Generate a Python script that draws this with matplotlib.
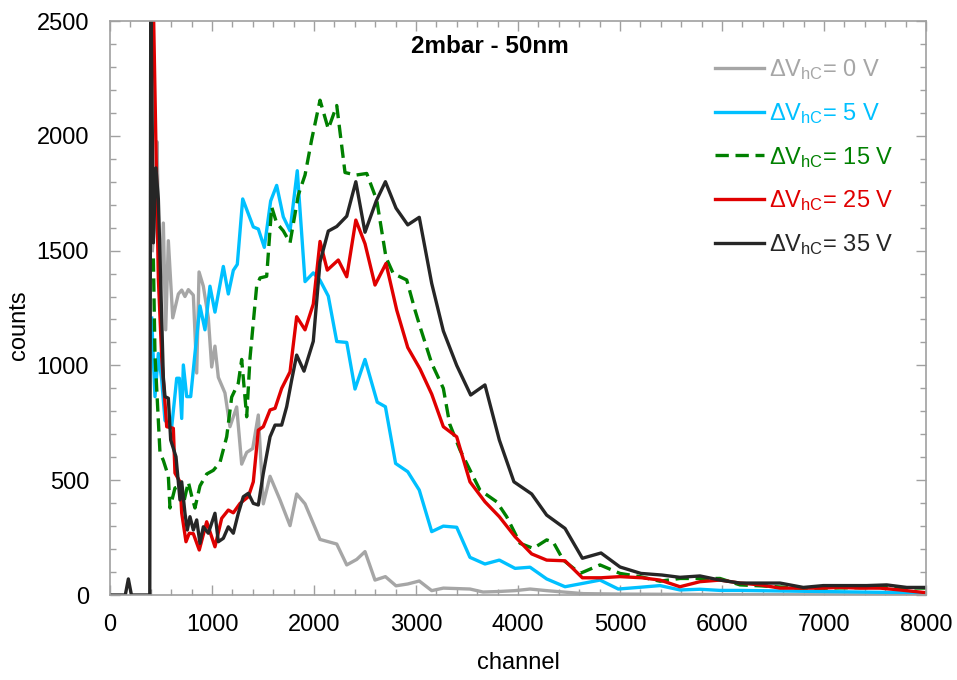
import numpy as np
import matplotlib.pyplot as plt
from matplotlib.ticker import MultipleLocator

plt.rcParams['font.family'] = ['Liberation Sans', 'DejaVu Sans']
plt.rcParams['mathtext.fontset'] = 'custom'
plt.rcParams['mathtext.rm'] = 'Liberation Sans'
plt.rcParams['mathtext.it'] = 'Liberation Sans'

# series: channel / counts for each dV_hC
ch0 = [415, 445, 461, 490, 523, 546, 572, 615, 670, 703, 735, 768, 817, 850, 873, 915,
       964, 997, 1029, 1062, 1127, 1176, 1242, 1291, 1340, 1399, 1454, 1503, 1569, 1667,
       1765, 1830, 1912, 2059, 2223, 2321, 2419, 2500, 2598, 2700, 2804, 2919, 3032, 3154,
       3268, 3529, 3657, 3800, 3971, 4118, 4281, 4444, 4640, 5000, 6000, 8000]
cnt0 = [1500, 1650, 1974, 1250, 1620, 1155, 1543, 1207, 1311, 1328, 1300, 1330, 1306, 967,
        1407, 1345, 1207, 993, 1084, 948, 880, 733, 819, 570, 621, 638, 784, 397, 517, 414,
        302, 440, 397, 242, 222, 131, 155, 189, 65, 80, 40, 48, 61, 19,
        30, 26, 13, 15, 19, 26, 19, 13, 6, 4, 2, 0]

ch5 = [409, 425, 441, 474, 507, 539, 605, 654, 680, 703, 719, 752, 791, 833, 882, 931,
       980, 1029, 1111, 1160, 1209, 1248, 1301, 1405, 1454, 1513, 1575, 1634, 1699, 1765,
       1836, 1912, 1993, 2059, 2140, 2223, 2321, 2402, 2500, 2620, 2700, 2800, 2919, 3032,
       3154, 3268, 3399, 3529, 3676, 3817, 3971, 4118, 4281, 4461, 4640, 4804, 4983, 5180,
       5392, 5588, 5784, 5980, 6176, 6500, 7000, 7500, 8000]
cnt5 = [1206, 1023, 864, 1052, 936, 760, 733, 944, 944, 769, 1002, 864, 864, 1052, 1259, 1155,
        1345, 1232, 1431, 1311, 1414, 1440, 1725, 1603, 1594, 1514, 1716, 1784, 1647, 1586,
        1848, 1365, 1403, 1371, 1302, 1104, 1100, 897, 1026, 840, 820, 573, 537, 457,
        276, 300, 295, 164, 135, 152, 116, 121, 70, 36, 51, 65, 26, 33,
        41, 22, 25, 20, 20, 18, 15, 12, 10]

ch15 = [425, 441, 490, 523, 572, 588, 637, 686, 719, 768, 801, 833, 882, 948, 1013, 1078,
        1144, 1193, 1258, 1291, 1340, 1373, 1438, 1471, 1536, 1585, 1634, 1699, 1765, 1846,
        1912, 1977, 2059, 2140, 2223, 2304, 2412, 2517, 2615, 2706, 2777, 2909, 2990, 3039,
        3154, 3268, 3330, 3431, 3627, 3791, 3889, 4020, 4150, 4281, 4346, 4444, 4608, 4804,
        5000, 5196, 5392, 5588, 5784, 5980, 6176, 6373, 6569, 6765, 7000, 7500, 8000]
cnt15 = [1466, 1045, 620, 586, 518, 379, 466, 475, 396, 492, 431, 379, 475, 527, 543, 577,
         689, 862, 923, 1026, 776, 1034, 1346, 1381, 1388, 1690, 1620, 1586, 1534, 1742,
         1829, 1983, 2155, 2030, 2132, 1840, 1829, 1836, 1720, 1470, 1400, 1372, 1241, 1169,
         1009, 900, 745, 632, 457, 406, 341, 225, 203, 240, 230, 152, 94, 131,
         94, 80, 60, 72, 72, 72, 44, 40, 35, 30, 30, 33, 30]

ch25 = [420, 474, 507, 556, 621, 637, 686, 703, 745, 777, 817, 875, 948, 1029, 1095, 1160,
        1209, 1275, 1356, 1405, 1454, 1503, 1569, 1618, 1683, 1765, 1830, 1912, 1993, 2059,
        2130, 2238, 2321, 2410, 2500, 2598, 2706, 2811, 2919, 3039, 3154, 3268, 3399, 3529,
        3676, 3817, 3971, 4134, 4281, 4461, 4631, 4814, 5000, 5213, 5392, 5588, 5784, 5980,
        6176, 6373, 6569, 6765, 6961, 7157, 7353, 7549, 7745, 8000]
cnt25 = [2700, 1380, 1034, 733, 726, 531, 493, 357, 232, 269, 267, 196, 319, 210, 334, 370,
         358, 399, 428, 493, 718, 733, 806, 813, 900, 972, 1212, 1155, 1267, 1540,
         1415, 1459, 1386, 1633, 1530, 1350, 1444, 1241, 1078, 985, 875, 733, 689, 493,
         406, 341, 254, 179, 152, 149, 75, 75, 80, 75, 65, 36, 58, 65,
         52, 44, 30, 30, 30, 33, 30, 30, 22, 10]

ch35 = [0, 150, 180, 210, 390, 400, 425, 450, 474, 523, 539, 572, 595, 647, 686, 703,
        735, 758, 784, 817, 850, 882, 915, 964, 1029, 1062, 1111, 1160, 1209, 1258,
        1307, 1356, 1405, 1454, 1503, 1569, 1618, 1683, 1732, 1781, 1830, 1902, 1993, 2059,
        2140, 2223, 2321, 2410, 2500, 2610, 2700, 2804, 2919, 3032, 3154, 3268, 3399, 3536,
        3676, 3817, 3960, 4134, 4281, 4461, 4631, 4814, 5000, 5205, 5410, 5588, 5784, 5980,
        6176, 6373, 6569, 6797, 6993, 7189, 7419, 7615, 7811, 8000]
cnt35 = [0, 0, 70, 0, 0, 2700, 1534, 1860, 1725, 948, 864, 857, 675, 602, 414, 493,
         356, 283, 341, 283, 327, 225, 297, 269, 356, 232, 247, 297, 269, 356,
         428, 443, 399, 392, 530, 689, 740, 740, 820, 936, 1045, 975, 1105, 1450,
         1585, 1605, 1650, 1800, 1580, 1716, 1800, 1685, 1612, 1645, 1357, 1150, 1000, 871,
         915, 675, 493, 440, 348, 290, 160, 183, 122, 94, 87, 77, 83, 65,
         52, 52, 52, 33, 41, 41, 41, 44, 33, 33]

labels = ['0', '5', '15', '25', '35']
colors = ['#a6a6a6', '#00c0ff', '#008000', '#e00000', '#262626']

fig = plt.figure(figsize=(9.57, 6.80), dpi=100)
ax = fig.add_axes([110/957, 85/680, 816/957, 574/680])

series = [(ch0, cnt0), (ch5, cnt5), (ch15, cnt15), (ch25, cnt25), (ch35, cnt35)]
for (x, y), lab, c in zip(series, labels, colors):
    ls = (0, (4, 2)) if lab == '15' else '-'
    ax.plot(x, y, color=c, lw=2.4, ls=ls,
            label='Δ$\\mathrm{V}_{\\mathrm{hC}}$= ' + lab + ' V')

ax.set_xlim(0, 8000)
ax.set_ylim(0, 2500)
ax.xaxis.set_major_locator(MultipleLocator(1000))
ax.xaxis.set_minor_locator(MultipleLocator(200))
ax.yaxis.set_major_locator(MultipleLocator(500))
ax.yaxis.set_minor_locator(MultipleLocator(100))
ax.tick_params(which='both', direction='in', top=True, right=True, color='#a0a0a0',
               labelsize=17)
ax.tick_params(which='major', length=7, width=1)
ax.tick_params(which='minor', length=4, width=1)
ax.tick_params(axis='x', pad=14)
ax.tick_params(axis='y', pad=15)
for s in ax.spines.values():
    s.set_color('#a0a0a0')
    s.set_linewidth(1.2)

ax.set_xlabel('channel', fontsize=17)
ax.set_ylabel('counts', fontsize=17)
ax.xaxis.set_label_coords(0.5, -0.1)
ax.yaxis.set_label_coords(-0.098, 0.47)

ax.text(0.466, 0.955, '2mbar - 50nm', transform=ax.transAxes, ha='center', va='center',
        fontsize=17.5, fontweight='bold')

ax.legend(loc='upper left', bbox_to_anchor=(0.741, 0.937), frameon=False, fontsize=17,
          handlelength=2.1, handletextpad=0.2, labelspacing=0.8, borderpad=0,
          borderaxespad=0, labelcolor='linecolor')

fig.savefig('out.png', dpi=100)
